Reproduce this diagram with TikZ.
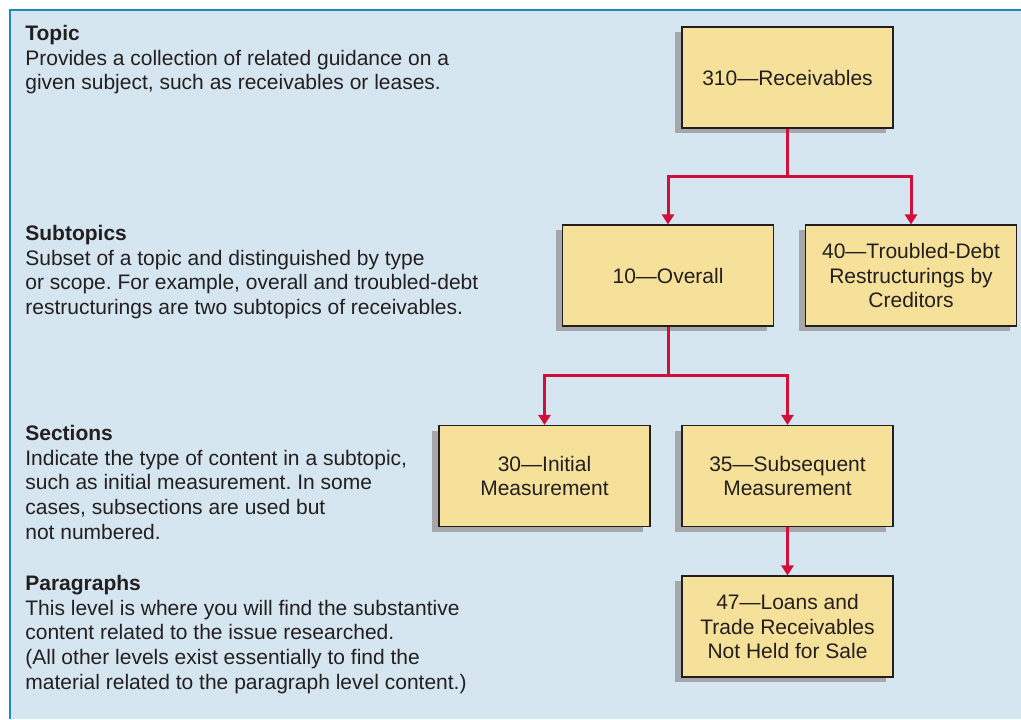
\documentclass[tikz,border=0pt]{standalone}
\usepackage{fontspec}
\setmainfont{Liberation Sans}
\usetikzlibrary{positioning, calc, arrows.meta, shadows}
\definecolor{panelfill}{HTML}{D5E6F0}
\definecolor{panelline}{HTML}{1D87C0}
\definecolor{boxfill}{HTML}{F6E19A}
\definecolor{shadowgray}{HTML}{A5A7AA}
\definecolor{linkred}{HTML}{D0103A}
\definecolor{inkgray}{HTML}{231F20}
\frenchspacing

\begin{document}
\begin{tikzpicture}[
  text=inkgray,
  font=\fontsize{11.95}{14}\selectfont,
  level/.style={draw=inkgray, line width=0.6pt, fill=boxfill,
    minimum width=4.22cm, minimum height=2.02cm, inner sep=0pt, align=center,
    font=\fontsize{11.95}{14.2}\selectfont,
    drop shadow={shadow xshift=-0.14cm, shadow yshift=-0.1cm, fill=shadowgray, opacity=1}},
  note/.style={anchor=base west, align=left, inner sep=0pt},
  link/.style={draw=linkred, line width=1.7pt, -{Triangle[length=0.2cm, width=0.24cm]}}
]
  \useasboundingbox (0,0) rectangle (20.42,-14.38);
  % panel
  \fill[panelfill] (0.2,-0.2) rectangle (20.42,-14.38);
  \draw[panelline, line width=1.1pt] (20.42,-0.2) -- (0.2,-0.2) -- (0.2,-14.38);

  % levels of the codification (placed at the baseline of the last line)
  \node[note] (topic) at (0.5,-1.80) {\textbf{Topic}\\
    Provides a collection of related guidance on a\\
    given subject, such as receivables or leases.};
  \node[note] (subtopics) at (0.5,-6.29) {\textbf{Subtopics}\\
    Subset of a topic and distinguished by type\\
    or scope. For example, overall and troubled-debt\\
    restructurings are two subtopics of receivables.};
  \node[note] (sections) at (0.5,-10.78) {\textbf{Sections}\\
    Indicate the type of content in a subtopic,\\
    such as initial measurement. In some\\
    cases, subsections are used but\\
    not numbered.};
  \node[note] (paragraphs) at (0.5,-13.78) {\textbf{Paragraphs}\\
    This level is where you will find the substantive\\
    content related to the issue researched.\\
    (All other levels exist essentially to find the\\
    material related to the paragraph level content.)};

  % boxes
  \node[level] (rec) at (15.75,-1.55) {310---Receivables};
  \node[level] (ovr) at (13.36,-5.51) {10---Overall};
  \node[level] (tdr) at (18.22,-5.51) {40---Troubled-Debt\\Restructurings by\\Creditors};
  \node[level] (ini) at (10.89,-9.52) {30---Initial\\Measurement};
  \node[level] (sub) at (15.75,-9.52) {35---Subsequent\\Measurement};
  \node[level] (lns) at (15.75,-12.53) {47---Loans and\\Trade Receivables\\Not Held for Sale};

  % connectors
  \coordinate (j1) at ($(rec.south)!0.5!(ovr.north)$);
  \coordinate (j2) at ($(ovr.south)!0.5!(ini.north)$);
  \draw[link] (rec.south) -- (rec.south |- j1) -| (ovr.north);
  \draw[link] (rec.south) -- (rec.south |- j1) -| (tdr.north);
  \draw[link] (ovr.south) -- (ovr.south |- j2) -| (ini.north);
  \draw[link] (ovr.south) -- (ovr.south |- j2) -| (sub.north);
  \draw[link] (sub.south) -- (lns.north);
\end{tikzpicture}
\end{document}
